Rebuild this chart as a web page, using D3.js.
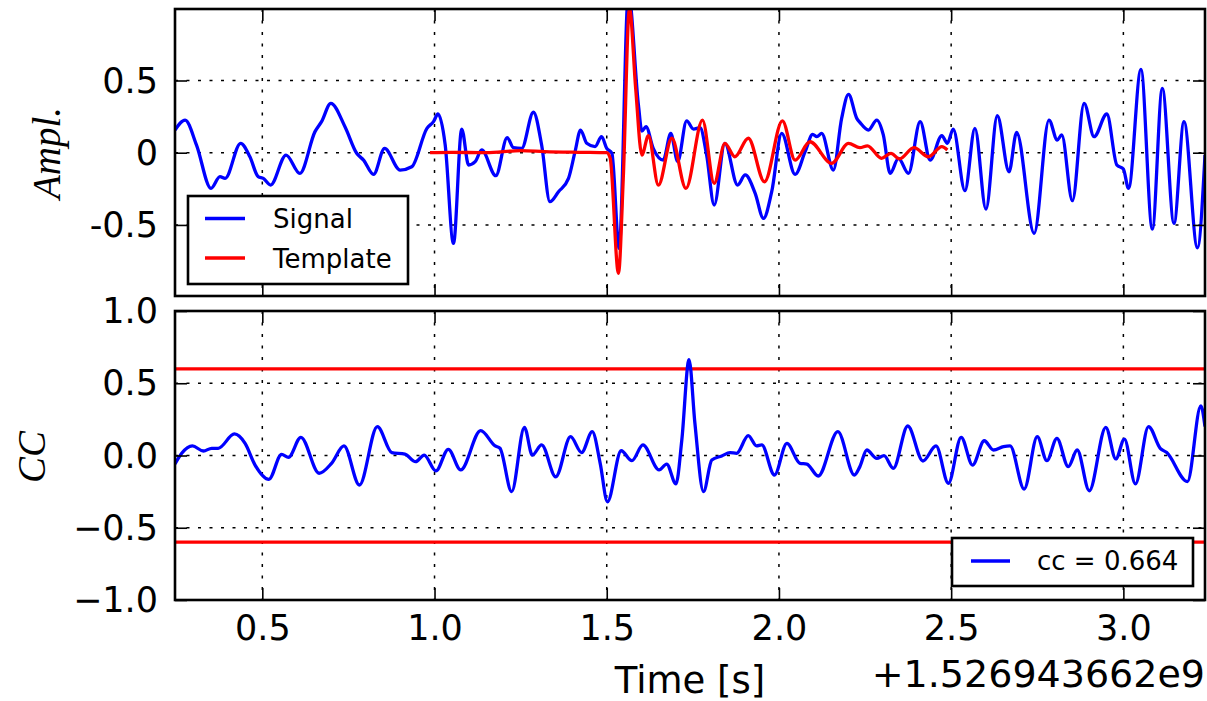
<!DOCTYPE html>
<html>
<head>
<meta charset="utf-8">
<script src="https://cdn.jsdelivr.net/npm/d3@7"></script>
<style>
  body { margin: 0; background: #fff; }
  svg { display: block; }
  text { font-family: "DejaVu Sans", sans-serif; fill: #000; }
  .tick line { stroke: #000; stroke-width: 1.6; }
  .grid { stroke: #000; stroke-width: 1.5; stroke-dasharray: 3,8.5; fill: none; }
</style>
</head>
<body>
<svg id="chart" width="1207" height="701"></svg>
<script>
// time axis, seconds after the offset 1.526943662e9
var xTicks = [0.5, 1.0, 1.5, 2.0, 2.5, 3.0];
var amplTicks = [-0.5, 0, 0.5];
var ccTicks = [-1.0, -0.5, 0.0, 0.5, 1.0];
var ccThreshold = [0.6, -0.6];
var ccLabel = "cc = 0.664";

// [time, amplitude]
var signal = [
  [0.2465, 0.157], [0.276, 0.226], [0.309, 0.053], [0.351, -0.247], [0.377, -0.166],
  [0.392, -0.178], [0.437, 0.065], [0.464, -0.028], [0.488, -0.166], [0.503, -0.178],
  [0.524, -0.224], [0.569, -0.016], [0.609, -0.143], [0.653, 0.146], [0.672, 0.215],
  [0.699, 0.342], [0.740, 0.180], [0.774, -0.004], [0.794, -0.051], [0.823, -0.150],
  [0.855, 0.030], [0.900, -0.120], [0.934, -0.097], [0.978, 0.169], [0.997, 0.215],
  [1.010, 0.268], [1.031, 0.053], [1.055, -0.628], [1.079, 0.164], [1.099, -0.085],
  [1.118, -0.062], [1.137, 0.019], [1.178, -0.159], [1.211, 0.104], [1.229, 0.035],
  [1.253, 0.030], [1.287, 0.280], [1.311, 0.053], [1.335, -0.339], [1.360, -0.270],
  [1.389, -0.178], [1.408, 0.007], [1.424, 0.157], [1.442, 0.065], [1.466, 0.042],
  [1.485, 0.111], [1.500, 0.030], [1.515, -0.004], [1.536, -0.662], [1.563, 1.10],
  [1.592, 0.330], [1.602, 0.150], [1.614, 0.180], [1.635, 0.030], [1.664, -0.051],
  [1.686, 0.134], [1.706, -0.062], [1.732, 0.220], [1.752, 0.164], [1.771, 0.173],
  [1.790, -0.016], [1.812, -0.362], [1.843, 0.065], [1.880, -0.224], [1.902, -0.154],
  [1.931, -0.281], [1.955, -0.455], [1.979, -0.270], [2.008, 0.134], [2.047, -0.150],
  [2.076, 0.007], [2.098, 0.127], [2.110, 0.111], [2.124, 0.134], [2.158, -0.120],
  [2.182, 0.238], [2.202, 0.404], [2.226, 0.238], [2.235, 0.210], [2.260, 0.157],
  [2.284, 0.226], [2.303, 0.123], [2.323, -0.143], [2.347, -0.039], [2.376, -0.143],
  [2.410, 0.215], [2.439, -0.051], [2.473, 0.118], [2.489, 0.065], [2.506, 0.164],
  [2.540, -0.263], [2.569, 0.169], [2.601, -0.390], [2.634, 0.256], [2.668, -0.132],
  [2.690, 0.141], [2.741, -0.558], [2.784, 0.226], [2.808, 0.088], [2.821, 0.123],
  [2.852, -0.332], [2.886, 0.342], [2.915, 0.111], [2.952, 0.268], [2.981, -0.085],
  [3.000, -0.113], [3.015, -0.247], [3.051, 0.577], [3.084, -0.529], [3.113, 0.446],
  [3.147, -0.489], [3.176, 0.215], [3.215, -0.658], [3.237, -0.016]
];

var template = [
  [0.987, 0.0], [1.05, 0.003], [1.15, 0.0], [1.25, 0.015], [1.32, 0.008],
  [1.42, 0.003], [1.500, 0.0], [1.510, -0.039], [1.534, -0.835], [1.548, -0.178],
  [1.566, 1.0], [1.584, 0.446], [1.602, -0.016], [1.621, 0.118], [1.650, -0.224],
  [1.689, 0.100], [1.730, -0.247], [1.778, 0.226], [1.812, -0.212], [1.843, 0.065],
  [1.872, -0.028], [1.911, 0.100], [1.958, -0.201], [2.010, 0.220], [2.047, -0.051],
  [2.090, 0.076], [2.153, -0.074], [2.202, 0.065], [2.235, 0.035], [2.257, 0.048],
  [2.298, -0.039], [2.325, -0.004], [2.350, -0.043], [2.392, 0.035], [2.434, -0.028],
  [2.473, 0.042], [2.489, 0.019]
];

var cc = [
  [0.2465, -0.059], [0.266, 0.015], [0.297, 0.066], [0.329, 0.031], [0.353, 0.050],
  [0.372, 0.050], [0.419, 0.149], [0.450, 0.084], [0.479, -0.066], [0.519, -0.165],
  [0.556, 0.008], [0.576, -0.012], [0.612, 0.126], [0.665, -0.123], [0.701, -0.054],
  [0.737, 0.066], [0.782, -0.204], [0.834, 0.200], [0.876, 0.020], [0.914, 0.010],
  [0.945, -0.043], [0.970, 0.003], [1.004, -0.107], [1.040, 0.043], [1.076, -0.100],
  [1.134, 0.172], [1.176, 0.066], [1.190, 0.050], [1.224, -0.250], [1.261, 0.195],
  [1.284, 0.003], [1.311, 0.073], [1.352, -0.147], [1.395, 0.130], [1.427, 0.020],
  [1.458, 0.165], [1.481, -0.054], [1.502, -0.320], [1.542, 0.033], [1.573, -0.036],
  [1.605, 0.073], [1.652, -0.100], [1.674, -0.059], [1.701, -0.197], [1.718, 0.107],
  [1.739, 0.664], [1.756, 0.223], [1.781, -0.250], [1.805, -0.031], [1.834, -0.003],
  [1.858, 0.020], [1.877, 0.015], [1.911, 0.137], [1.935, 0.066], [1.950, 0.073],
  [1.987, -0.135], [2.023, 0.084], [2.061, -0.054], [2.081, -0.059], [2.114, -0.142],
  [2.171, 0.165], [2.219, -0.135], [2.235, -0.077], [2.255, 0.038], [2.284, -0.020],
  [2.305, -0.001], [2.332, -0.089], [2.374, 0.204], [2.418, -0.038], [2.456, 0.066],
  [2.492, -0.192], [2.529, 0.126], [2.562, -0.066], [2.596, 0.102], [2.623, 0.038],
  [2.652, 0.061], [2.671, 0.066], [2.712, -0.232], [2.750, 0.130], [2.778, -0.036],
  [2.807, 0.119], [2.840, -0.077], [2.866, 0.038], [2.901, -0.244], [2.949, 0.195],
  [2.978, -0.024], [3.003, 0.114], [3.035, -0.197], [3.073, 0.200], [3.107, 0.050],
  [3.126, 0.020], [3.186, -0.181], [3.225, 0.343], [3.237, 0.200]
];

var svg = d3.select('#chart');
var left = 175, right = 1205;
var tickLen = 12;
var lineW = 3.3;

var x = d3.scaleLinear().domain([0.2465, 3.237]).range([left, right]);
var yTop = d3.scaleLinear().domain([-0.992, 0.995]).range([296, 9]);
var yCC = d3.scaleLinear().domain([-1, 1]).range([600, 311]);

function drawPanel(name, y, yTicks, yFormat, showX) {
    var top = y.range()[1], bottom = y.range()[0];
    var g = svg.append('g').attr('class', name);

    g.append('clipPath').attr('id', name + '_clip')
      .append('rect')
        .attr('x', left).attr('y', top)
        .attr('width', right - left).attr('height', bottom - top);

    // dotted grid
    g.selectAll('line.gx').data(xTicks).enter().append('line')
        .attr('class', 'grid')
        .attr('x1', x).attr('x2', x)
        .attr('y1', top).attr('y2', bottom);
    g.selectAll('line.gy').data(yTicks).enter().append('line')
        .attr('class', 'grid')
        .attr('x1', left).attr('x2', right)
        .attr('y1', y).attr('y2', y);

    var plot = g.append('g').attr('clip-path', 'url(#' + name + '_clip)');

    var axB = d3.axisBottom(x).tickValues(xTicks).tickSize(-tickLen).tickPadding(15)
        .tickFormat(showX ? d3.format('.1f') : '');
    var axT = d3.axisTop(x).tickValues(xTicks).tickSize(-tickLen).tickFormat('');
    var axL = d3.axisLeft(y).tickValues(yTicks).tickSize(-tickLen).tickPadding(17)
        .tickFormat(yFormat);
    var axR = d3.axisRight(y).tickValues(yTicks).tickSize(-tickLen).tickFormat('');

    [[axB, 'translate(0,' + bottom + ')'], [axT, 'translate(0,' + top + ')'],
     [axL, 'translate(' + left + ',0)'], [axR, 'translate(' + right + ',0)']]
      .forEach(function(a, i) {
        var ax = g.append('g').attr('transform', a[1]).call(a[0]);
        ax.select('.domain').remove();
        ax.selectAll('text').style('font-size', '35px')
            .style('font-family', '"DejaVu Sans", sans-serif');
        if (i == 2) ax.selectAll('text').attr('dy', '0.33em');
      });

    return { g: g, plot: plot, top: top, bottom: bottom };
}

function frame(p) {
    p.g.append('rect')
        .attr('x', left).attr('y', p.top)
        .attr('width', right - left).attr('height', p.bottom - p.top)
        .attr('fill', 'none').attr('stroke', '#000').attr('stroke-width', 2.6);
}

// top panel: signal and template
var p1 = drawPanel('ampl', yTop, amplTicks, function(d) { return String(d); }, false);

var lineTop = d3.line()
    .x(function(d) { return x(d[0]); })
    .y(function(d) { return yTop(d[1]); })
    .curve(d3.curveMonotoneX);

p1.plot.append('path').datum(signal)
    .attr('d', lineTop)
    .attr('fill', 'none').attr('stroke', '#0000ff').attr('stroke-width', lineW);
p1.plot.append('path').datum(template)
    .attr('d', lineTop)
    .attr('fill', 'none').attr('stroke', '#ff0000').attr('stroke-width', lineW);
frame(p1);

// legend
var lg = p1.g.append('g');
lg.append('rect').attr('x', 188).attr('y', 196).attr('width', 220).attr('height', 88)
    .attr('fill', '#fff').attr('stroke', '#000').attr('stroke-width', 2.6);
[['Signal', '#0000ff', 218.5], ['Template', '#ff0000', 258]].forEach(function(e) {
    lg.append('line').attr('x1', 205).attr('x2', 245).attr('y1', e[2]).attr('y2', e[2])
        .attr('stroke', e[1]).attr('stroke-width', lineW);
    lg.append('text').attr('x', 273).attr('y', e[2] + 9.5)
        .style('font-size', '26px').text(e[0]);
});

svg.append('text')
    .attr('transform', 'translate(60,153) rotate(-90)')
    .attr('text-anchor', 'middle')
    .style('font-family', '"Liberation Serif", serif')
    .style('font-style', 'italic')
    .style('font-size', '39px')
    .text('Ampl.');

// bottom panel: cross-correlation
var p2 = drawPanel('cc', yCC, ccTicks, d3.format('.1f'), true);

var lineCC = d3.line()
    .x(function(d) { return x(d[0]); })
    .y(function(d) { return yCC(d[1]); })
    .curve(d3.curveMonotoneX);

p2.plot.selectAll('line.thr').data(ccThreshold).enter().append('line')
    .attr('x1', left).attr('x2', right)
    .attr('y1', yCC).attr('y2', yCC)
    .attr('stroke', '#ff0000').attr('stroke-width', lineW);
p2.plot.append('path').datum(cc)
    .attr('d', lineCC)
    .attr('fill', 'none').attr('stroke', '#0000ff').attr('stroke-width', lineW);
frame(p2);

var lg2 = p2.g.append('g');
lg2.append('rect').attr('x', 952).attr('y', 538).attr('width', 241).attr('height', 48)
    .attr('fill', '#fff').attr('stroke', '#000').attr('stroke-width', 2.6);
lg2.append('line').attr('x1', 971).attr('x2', 1010).attr('y1', 561).attr('y2', 561)
    .attr('stroke', '#0000ff').attr('stroke-width', lineW);
lg2.append('text').attr('x', 1037).attr('y', 570)
    .style('font-size', '26px').text(ccLabel);

svg.append('text')
    .attr('transform', 'translate(45,457) rotate(-90)')
    .attr('text-anchor', 'middle')
    .style('font-family', '"Liberation Serif", serif')
    .style('font-style', 'italic')
    .style('font-size', '39px')
    .text('CC');

svg.append('text')
    .attr('x', (left + right) / 2).attr('y', 693)
    .attr('text-anchor', 'middle')
    .style('font-size', '37px')
    .text('Time [s]');

svg.append('text')
    .attr('x', 1205).attr('y', 687)
    .attr('text-anchor', 'end')
    .style('font-size', '38px')
    .text('+1.526943662e9');
</script>
</body>
</html>
